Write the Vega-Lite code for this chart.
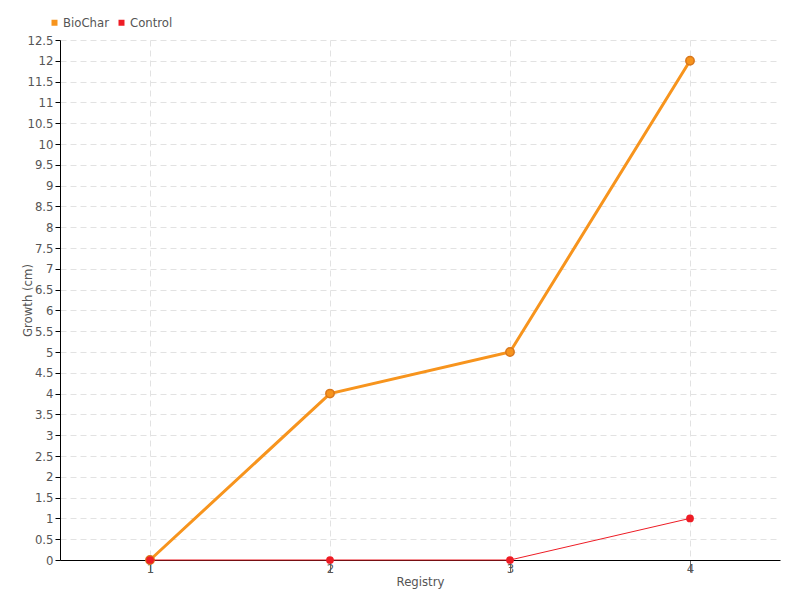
{
  "$schema": "https://vega.github.io/schema/vega-lite/v6.json",
  "width": 720,
  "height": 520,
  "autosize": {"type": "none"},
  "padding": {"left": 60, "top": 40, "right": 20, "bottom": 40},
  "background": "white",
  "config": {
    "font": "DejaVu Sans Condensed, Roboto, sans-serif",
    "view": {"stroke": null},
    "axis": {
      "labelFont": "DejaVu Sans Condensed, Roboto, sans-serif",
      "titleFont": "DejaVu Sans Condensed, Roboto, sans-serif",
      "labelFontSize": 13,
      "titleFontSize": 13,
      "titleFontWeight": "normal",
      "labelColor": "#555555",
      "titleColor": "#555555",
      "domainColor": "#000000",
      "gridColor": "#e2e2e2",
      "gridDash": [6, 4]
    },
    "legend": {
      "labelFont": "DejaVu Sans Condensed, Roboto, sans-serif",
      "labelFontSize": 13,
      "labelColor": "#555555"
    }
  },
  "data": {
    "values": [
      {"Registry": 1, "Series": "BioChar", "Growth": 0},
      {"Registry": 2, "Series": "BioChar", "Growth": 4},
      {"Registry": 3, "Series": "BioChar", "Growth": 5},
      {"Registry": 4, "Series": "BioChar", "Growth": 12},
      {"Registry": 1, "Series": "Control", "Growth": 0},
      {"Registry": 2, "Series": "Control", "Growth": 0},
      {"Registry": 3, "Series": "Control", "Growth": 0},
      {"Registry": 4, "Series": "Control", "Growth": 1}
    ]
  },
  "encoding": {
    "x": {
      "field": "Registry",
      "type": "ordinal",
      "scale": {"type": "point", "padding": 0.5},
      "axis": {
        "title": "Registry",
        "labelAngle": 0,
        "tickColor": "#666666",
        "tickSize": 12,
        "labelPadding": -10,
        "titlePadding": 0,
        "grid": true
      }
    },
    "y": {
      "field": "Growth",
      "type": "quantitative",
      "scale": {"domain": [0, 12.5], "nice": false},
      "axis": {
        "title": "Growth (cm)",
        "values": [0,0.5,1,1.5,2,2.5,3,3.5,4,4.5,5,5.5,6,6.5,7,7.5,8,8.5,9,9.5,10,10.5,11,11.5,12,12.5],
        "format": "~g",
        "tickColor": "#000000",
        "tickSize": 5,
        "labelPadding": 2,
        "titlePadding": -8,
        "grid": true
      }
    },
    "color": {
      "field": "Series",
      "type": "nominal",
      "scale": {"domain": ["BioChar", "Control"], "range": ["#f7941d", "#ee1c25"]},
      "legend": {
        "title": null,
        "orient": "none",
        "direction": "horizontal",
        "legendX": -12,
        "legendY": -24,
        "symbolType": "square",
        "symbolSize": 36,
        "symbolStrokeWidth": 0,
        "labelOffset": 2,
        "columnPadding": 6,
        "padding": 0
      }
    }
  },
  "layer": [
    {
      "transform": [{"filter": "datum.Series === 'BioChar'"}],
      "mark": {"type": "line", "strokeWidth": 3}
    },
    {
      "transform": [{"filter": "datum.Series === 'BioChar'"}],
      "mark": {"type": "point", "filled": true, "size": 70, "opacity": 1, "stroke": "#d9761a", "strokeWidth": 1.5}
    },
    {
      "transform": [{"filter": "datum.Series === 'Control'"}],
      "mark": {"type": "line", "strokeWidth": 1}
    },
    {
      "transform": [{"filter": "datum.Series === 'Control'"}],
      "mark": {"type": "point", "filled": true, "size": 60, "opacity": 1}
    }
  ]
}
